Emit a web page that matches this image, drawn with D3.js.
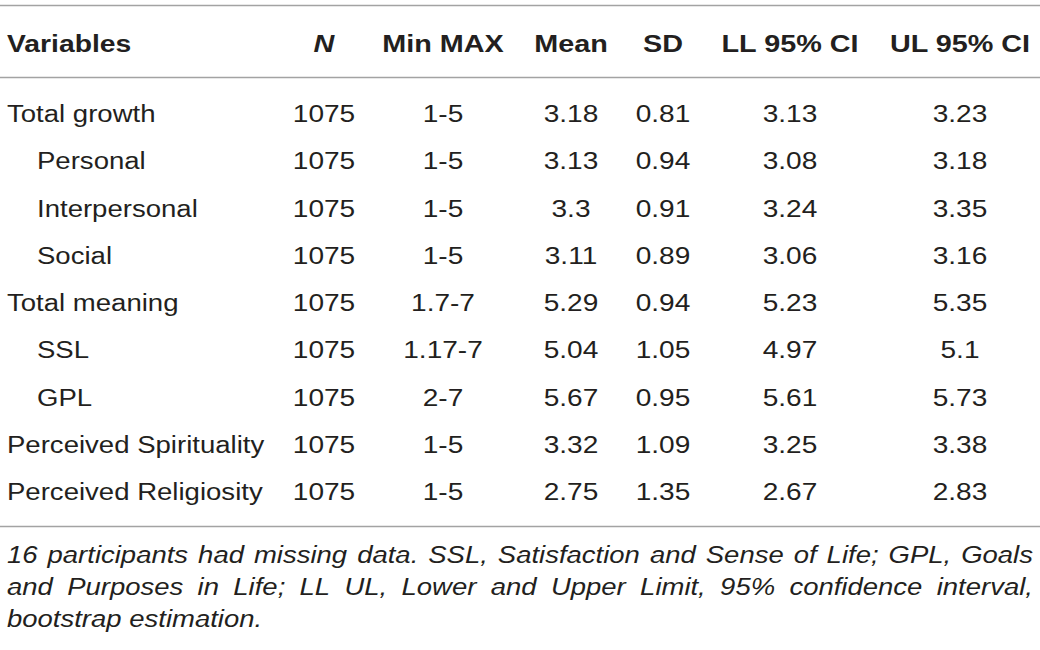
<!DOCTYPE html>
<html>
<head>
<meta charset="utf-8">
<script src="https://cdn.jsdelivr.net/npm/d3@7"></script>
<style>
  body { margin: 0; background: #fff; }
  text { font-family: "Liberation Sans", Arial, sans-serif; fill: #231f20; }
</style>
</head>
<body>
<div id="chart"></div>
<script>
// table data
const headers = ["Variables", "N", "Min MAX", "Mean", "SD", "LL 95% CI", "UL 95% CI"];
const variables = ["Total growth", "Personal", "Interpersonal", "Social", "Total meaning", "SSL", "GPL", "Perceived Spirituality", "Perceived Religiosity"];
const subRow = [false, true, true, true, false, true, true, false, false];
const nValues = ["1075", "1075", "1075", "1075", "1075", "1075", "1075", "1075", "1075"];
const ranges = ["1-5", "1-5", "1-5", "1-5", "1.7-7", "1.17-7", "2-7", "1-5", "1-5"];
const means = ["3.18", "3.13", "3.3", "3.11", "5.29", "5.04", "5.67", "3.32", "2.75"];
const sds = ["0.81", "0.94", "0.91", "0.89", "0.94", "1.05", "0.95", "1.09", "1.35"];
const lowerCI = ["3.13", "3.08", "3.24", "3.06", "5.23", "4.97", "5.61", "3.25", "2.67"];
const upperCI = ["3.23", "3.18", "3.35", "3.16", "5.35", "5.1", "5.73", "3.38", "2.83"];
const footnote = [
  "16 participants had missing data. SSL, Satisfaction and Sense of Life; GPL, Goals",
  "and Purposes in Life; LL UL, Lower and Upper Limit, 95% confidence interval,",
  "bootstrap estimation."
];

const w = 1040;
const h = 650;
const sx = 1.145;     // glyphs in the picture are a bit wide
const fs = 24.5;

const svg = d3.select("#chart")
    .append("svg")
        .attr("width", w)
        .attr("height", h);

// column centers
const x = d3.scaleOrdinal()
    .domain(headers)
    .range([7, 324, 443, 571, 663, 790, 960]);

const y = d3.scalePoint()
    .domain(variables)
    .range([122, 500]);

// rules
const lineColor = "#a3a3a3";
[5.5, 77.5, 526.5].forEach(ly => {
    svg.append("line")
        .attr("x1", 0).attr("x2", w)
        .attr("y1", ly).attr("y2", ly)
        .attr("stroke", lineColor)
        .attr("stroke-width", 1.6);
});

function put(sel, tx, ty, scale) {
    return sel.attr("transform", "translate(" + tx + "," + ty + ") scale(" + scale + ",1)");
}

// header
headers.forEach((d, i) => {
    const t = svg.append("text")
        .text(d)
        .attr("font-size", fs)
        .attr("font-weight", "bold")
        .attr("text-anchor", i === 0 ? "start" : "middle")
        .attr("font-style", d === "N" ? "italic" : "normal");
    put(t, x(d), 52, i === 0 ? 1.155 : 1.175);
});

// first column
svg.selectAll("text.var")
    .data(variables)
    .enter()
    .append("text")
        .attr("class", "var")
        .attr("font-size", fs)
        .text(d => d)
        .each(function(d, i) {
            put(d3.select(this), x("Variables") + (subRow[i] ? 30 : 0), y(d), 1.125);
        });

// value columns
const cols = [["N", nValues], ["Min MAX", ranges], ["Mean", means], ["SD", sds], ["LL 95% CI", lowerCI], ["UL 95% CI", upperCI]];
cols.forEach(([key, vals]) => {
    svg.selectAll(null)
        .data(vals)
        .enter()
        .append("text")
            .attr("font-size", fs)
            .attr("text-anchor", "middle")
            .text(d => d)
            .each(function(d, i) {
                put(d3.select(this), x(key), y(variables[i]), sx);
            });
});

// footnote, justified
const fy = d3.scalePoint().domain(d3.range(footnote.length)).range([563, 627]);
const fsx = 1.17;
const ffs = 23.5;
footnote.forEach((line, li) => {
    const words = line.split(" ");
    const g = svg.append("g");
    const nodes = words.map(wd => g.append("text")
        .text(wd)
        .attr("font-size", ffs)
        .attr("font-style", "italic"));
    const widths = nodes.map(n => n.node().getComputedTextLength() * fsx);
    const total = d3.sum(widths);
    const last = li === footnote.length - 1;
    const gap = last ? 0.278 * ffs * fsx : (1033 - 7 - total) / (words.length - 1);
    let cx = 7;
    nodes.forEach((n, i) => {
        put(n, cx, fy(li), fsx);
        cx += widths[i] + gap;
    });
});
</script>
</body>
</html>
